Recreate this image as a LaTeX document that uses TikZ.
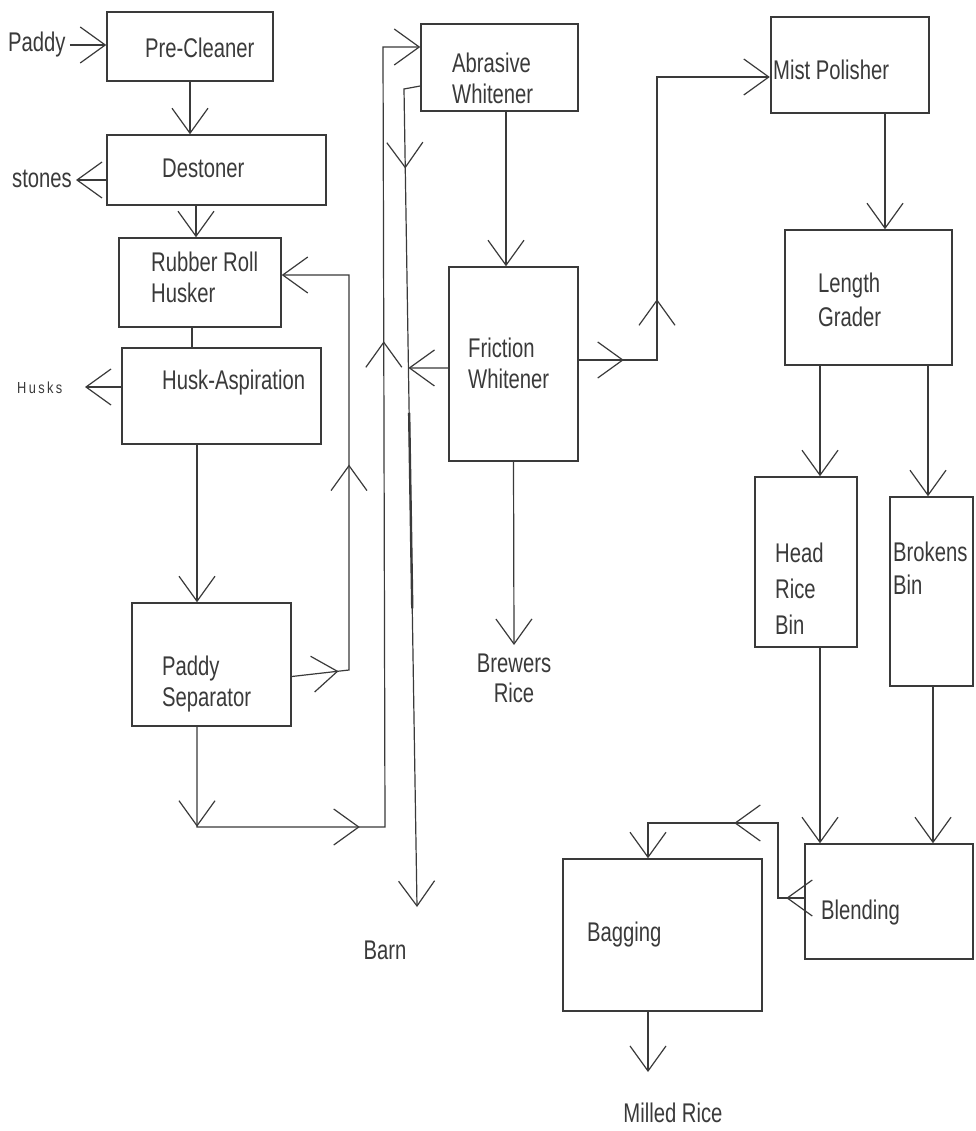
\documentclass[tikz,border=0pt]{standalone}
\usepackage{fontspec}
\setmainfont[FakeStretch=0.75]{Liberation Sans}
\newfontfamily\smallspaced[FakeStretch=0.8,LetterSpace=15]{Liberation Sans}
\usetikzlibrary{arrows.meta,decorations.markings,fit,calc}
\definecolor{ink}{HTML}{3A3A3A}
\begin{document}
\begin{tikzpicture}[x=1pt,y=-1pt,
  >={Straight Barb[length=25pt,width=36pt,line width=1.2pt]},
  box/.style={draw=ink, line width=1.5pt, inner sep=0pt},
  lbl/.style={inner sep=0pt, text=ink, font=\fontsize{27}{31}\selectfont, align=left},
  flow/.style={draw=ink, line width=1.2pt},
  heavy/.style={draw=ink, line width=2.4pt},
]
\useasboundingbox[fill=white] (0,0) rectangle (975,1131);

% boxes
\node[box, fit={(107,12)(273,81)}] (pre) {};
\node[box, fit={(107,135)(326,205)}] (dest) {};
\node[box, fit={(119,238)(281,327)}] (husk) {};
\node[box, fit={(122,348)(321,444)}] (asp) {};
\node[box, fit={(132,603)(291,726)}] (sep) {};
\node[box, fit={(421,24)(578,111)}] (abr) {};
\node[box, fit={(449,267)(578,461)}] (fric) {};
\node[box, line width=2.4pt, fit={(771,17)(929,113)}] (mist) {};
\node[box, fit={(785,230)(952,365)}] (len) {};
\node[box, fit={(755,477)(857,647)}] (head) {};
\node[box, fit={(890,497)(973,686)}] (brok) {};
\node[box, fit={(805,844)(973,959)}] (blend) {};
\node[box, fit={(563,859)(762,1011)}] (bag) {};

% labels
\node[lbl, anchor=west] (tPaddy) at (8,45) {Paddy};
\node[lbl, anchor=west] (tPre) at (145,48) {Pre-Cleaner};
\node[lbl, anchor=west] (tStones) at (12,179) {stones};
\node[lbl, anchor=west] (tDest) at (162,168) {Destoner};
\node[lbl, anchor=west] (tHusk) at (151,277) {Rubber Roll\\Husker};
\node[lbl, anchor=west, font=\smallspaced\fontsize{16}{18}\selectfont] (tHusks) at (17,388) {Husks};
\node[lbl, anchor=west] (tAsp) at (162,383) {Husk-Aspiration};
\node[lbl, anchor=west] (tSep) at (162,684) {Paddy\\Separator};
\node[lbl, anchor=west] (tAbr) at (452,78) {Abrasive\\Whitener};
\node[lbl, anchor=west] (tFric) at (468,363) {Friction\\Whitener};
\node[lbl, align=center, font=\fontsize{27}{30}\selectfont] (tBrew) at (514,678) {Brewers\\Rice};
\node[lbl, anchor=west] (tMist) at (773,70) {Mist Polisher};
\node[lbl, anchor=west, font=\fontsize{27}{34}\selectfont] (tLen) at (818,300) {Length\\Grader};
\node[lbl, anchor=west, font=\fontsize{27}{36}\selectfont] (tHead) at (775,589) {Head\\Rice\\Bin};
\node[lbl, anchor=west, font=\fontsize{27}{33}\selectfont] (tBrok) at (893,568) {Brokens\\Bin};
\node[lbl, anchor=west] (tBlend) at (821,913) {Blending};
\node[lbl, anchor=west] (tBag) at (587,935) {Bagging};
\node[lbl] (tMilled) at (673,1113) {Milled Rice};
\node[lbl] (tBarn) at (385,950) {Barn};

% free ends and bends
\coordinate (stEnd) at (76,180);
\coordinate (hkEnd) at (85,387);
\coordinate (r1) at (349,670);
\coordinate (r2) at (349,275);
\coordinate (s1) at (197,827);
\coordinate (s2) at (385,827);
\coordinate (s3) at (383,47);
\coordinate (b1) at (404,89);
\coordinate (b2) at (417,907);
\coordinate (m1) at (657,360);
\coordinate (m2) at (657,77);
\coordinate (brewEnd) at (514,645);
\coordinate (g1) at (778,898);
\coordinate (g2) at (778,823);
\coordinate (g3) at (648,823);
\coordinate (milEnd) at (648,1072);

% connectors
\draw[flow,->] ([xshift=4pt]tPaddy.east) -- (tPaddy.east -| pre.west);
\draw[flow,->] (pre.south) -- (pre.south |- dest.north);
\draw[flow,->] (dest.west |- stEnd) -- (stEnd);
\draw[flow,->] ([xshift=-4pt]husk.north |- dest.south) -- ([xshift=-4pt]husk.north);
\draw[flow] ([xshift=-8pt]husk.south) -- ([xshift=-8pt]husk.south |- asp.north);
\draw[flow,->] (asp.west |- hkEnd) -- (hkEnd);
\draw[flow,->] ([xshift=-14.5pt]sep.north |- asp.south) -- ([xshift=-14.5pt]sep.north);

\draw[flow,->,postaction={decorate,decoration={markings,
    mark=at position 47pt with {\arrow{>}},
    mark=at position 263pt with {\arrow{>}}}}]
  ([yshift=-12pt]sep.east) -- (r1) -- (r2) -- (r2 -| husk.east);

\draw[flow,->,postaction={decorate,decoration={markings,
    mark=at position 100pt with {\arrow{>}},
    mark=at position 263pt with {\arrow{>}},
    mark=at position 774pt with {\arrow{>}}}}]
  ([xshift=-14.5pt]sep.south) -- (s1) -- (s2) -- (s3) -- (s3 -| abr.west);

\draw[flow,->,postaction={decorate,decoration={markings,
    mark=at position 96pt with {\arrow{>}}}}]
  ([yshift=-18.5pt]abr.west) -- (b1) -- (b2);
\draw[heavy] ($(b1)!0.396!(b2)$) -- ($(b1)!0.635!(b2)$);

\draw[flow,->] ([yshift=-4pt]fric.west) -- ($(b1)!0.341!(b2)$);
\draw[flow,->] ([xshift=6.5pt]abr.south) -- ([xshift=6.5pt]abr.south |- fric.north);

\draw[heavy,->,postaction={decorate,decoration={markings,
    mark=at position 45pt with {\arrow{>}},
    mark=at position 139pt with {\arrow{>}}}}]
  ([yshift=4pt]fric.east) -- (m1) -- (m2) -- (m2 -| mist.west);

\draw[flow,->] ([xshift=35pt]mist.south) -- ([xshift=35pt]mist.south |- len.north);
\draw[flow,->] ([xshift=-48.5pt]len.south) -- ([xshift=-48.5pt]len.south |- head.north);
\draw[heavy] ([xshift=-48.5pt,yshift=-60pt]len.south) -- ([xshift=-48.5pt,yshift=-95pt]len.south);
\draw[flow,->] ([xshift=59.5pt]len.south) -- ([xshift=59.5pt]len.south |- brok.north);
\draw[flow,->] (fric.south) -- (brewEnd);
\draw[flow,->] ([xshift=14pt]head.south) -- ([xshift=14pt]head.south |- blend.north);
\draw[flow,->] ([xshift=1.5pt]brok.south) -- ([xshift=1.5pt]brok.south |- blend.north);

\draw[flow,->,postaction={decorate,decoration={markings,
    mark=at position 18pt with {\arrow{>}},
    mark=at position 145pt with {\arrow{>}}}}]
  ([yshift=3.5pt]blend.west) -- (g1) -- (g2) -- (g3) -- (g3 |- bag.north);
\draw[heavy] (g1) -- ($(g1)!0.47!(g2)$);

\draw[flow,->] (bag.south -| milEnd) -- (milEnd);
\end{tikzpicture}
\end{document}
